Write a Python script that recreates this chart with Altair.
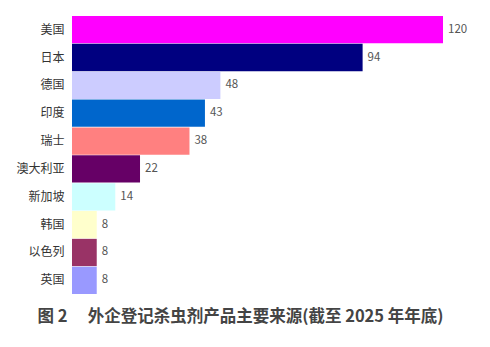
import altair as alt
import pandas as pd

countries = ["美国", "日本", "德国", "印度", "瑞士", "澳大利亚", "新加坡", "韩国", "以色列", "英国"]
counts = [120, 94, 48, 43, 38, 22, 14, 8, 8, 8]
colors = ["#FF00FF", "#000080", "#CCCCFF", "#0066CC", "#FF8080",
          "#660066", "#CCFFFF", "#FFFFCC", "#993366", "#9999FF"]

df = pd.DataFrame({"country": countries, "count": counts, "color": colors})

FONT = "Noto Sans CJK SC"

y = alt.Y("country:N", sort=countries,
          scale=alt.Scale(paddingInner=0.02, paddingOuter=0),
          axis=alt.Axis(title=None, domain=False, ticks=False, labelPadding=8,
                        labelFontSize=12, labelColor="#333333", labelFont=FONT))
x = alt.X("count:Q", scale=alt.Scale(domain=[0, 120], nice=False),
          axis=None)

bars = alt.Chart(df).mark_bar().encode(
    x=x, y=y, color=alt.Color("color:N", scale=None)
)
labels = alt.Chart(df).mark_text(align="left", dx=5, fontSize=11.5, color="#555555",
                                 font=FONT).encode(
    x=x, y=y, text="count:Q"
)

chart = (bars + labels).properties(
    width=371, height=278,
    padding={"left": 72, "top": 16, "right": 47, "bottom": 53},
    autosize=alt.AutoSizeParams(type="none"),
    title=alt.TitleParams("图 2　 外企登记杀虫剂产品主要来源(截至 2025 年年底)",
                          orient="bottom", anchor="middle", offset=15,
                          fontSize=16.5, fontWeight="bold", color="#444444",
                          font=FONT, dx=-17)
).configure_view(stroke=None)

chart.save("out.html", embed_options={"renderer": "svg", "actions": False})
